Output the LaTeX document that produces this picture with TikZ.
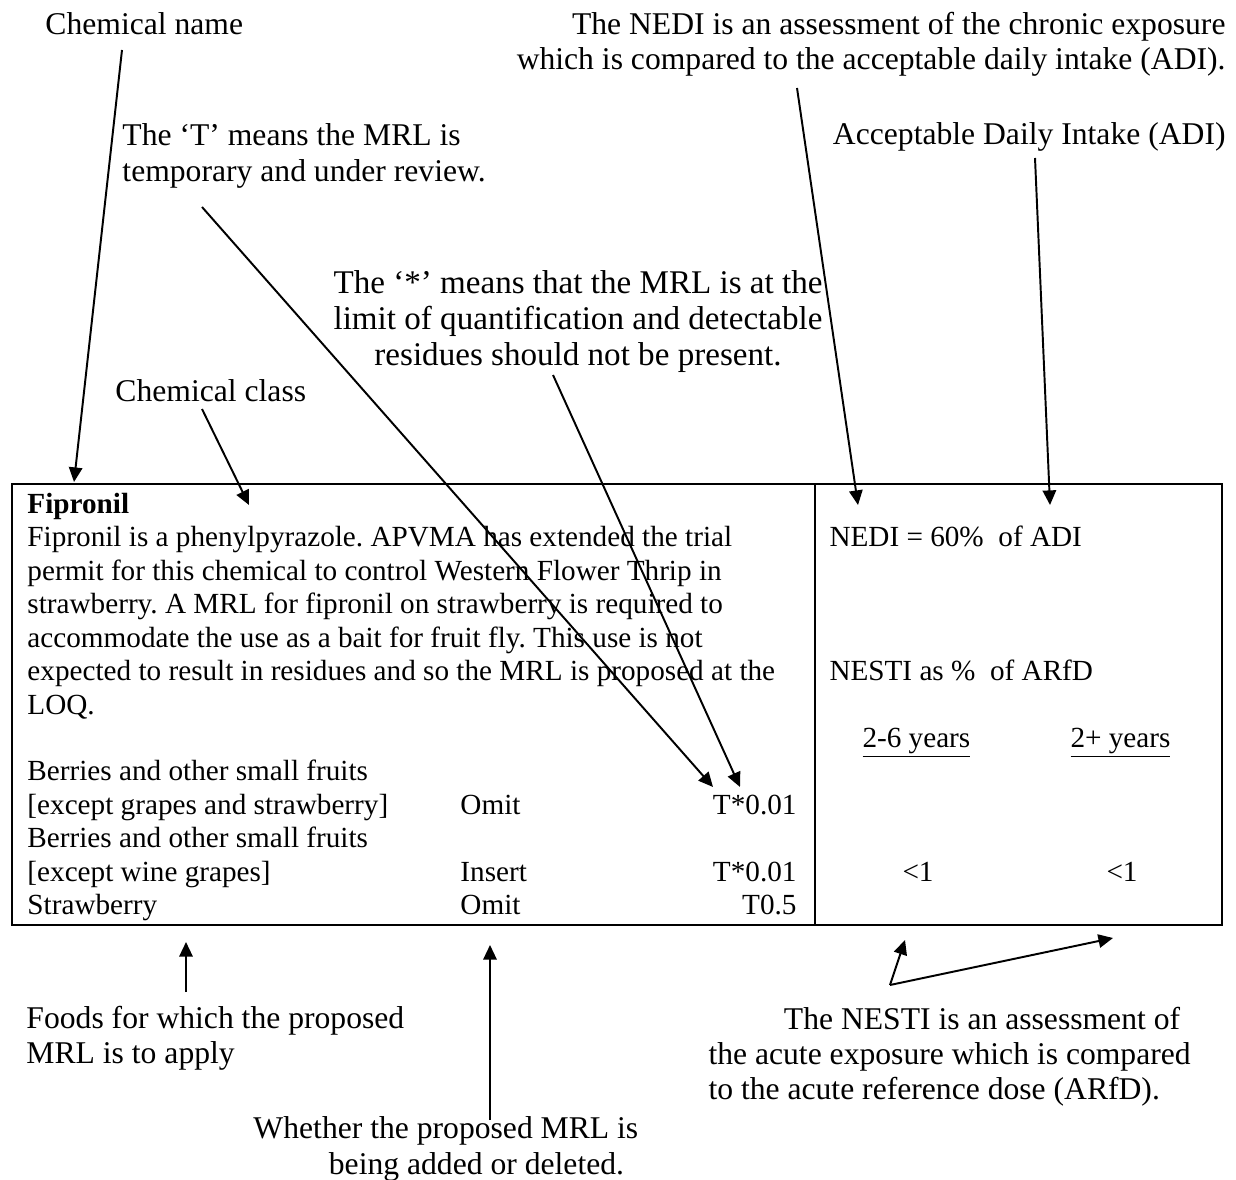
\documentclass[tikz,border=0pt]{standalone}
\usepackage{fontspec}
\setmainfont{Liberation Serif}
\usetikzlibrary{arrows.meta}
\frenchspacing
\newcommand{\tablefont}{\fontsize{12pt}{13.75pt}\selectfont}
\newcommand{\notefont}{\fontsize{13pt}{14.5pt}\selectfont}

\begin{document}
\begin{tikzpicture}[x=0.411pt, y=-0.411pt,
  note/.style={inner sep=0pt, font=\notefont},
  cell/.style={inner sep=0pt, font=\tablefont},
  pointer/.style={line width=0.8pt, -{Triangle[length=6pt,width=5.5pt]}},
  frame/.style={line width=1.2pt}]
\useasboundingbox (0,0) rectangle (1236,1180);
% notes above the table
\node[note, anchor=base west] (chemName) at (45,35) {Chemical name};
\node[note, anchor=north east, align=right] (nediNote) at (1226,11.5) {The NEDI is an assessment of the chronic exposure\\which is compared to the acceptable daily intake (ADI).};
\node[note, anchor=north west, align=left] (tempNote) at (122,123.5) {The `T' means the MRL is\\temporary and under review.};
\node[note, anchor=base east] (adiNote) at (1226,145) {Acceptable Daily Intake (ADI)};
\node[note, anchor=north, align=center, font=\fontsize{13.6pt}{14.8pt}\selectfont] (loqNote) at (578,270.5) {The `*' means that the MRL is at the\\limit of quantification and detectable\\residues should not be present.};
\node[note, anchor=base west] (classNote) at (115,402) {Chemical class};
% the table
\draw[frame] (12,484) rectangle (1222,925);
\draw[frame] (815,484) -- (815,925);
\node[cell, anchor=base west] (title) at (27,513) {\textbf{Fipronil}};
\node[cell, anchor=north west, align=left] (summary) at (27,526) {Fipronil is a phenylpyrazole. APVMA has extended the trial\\permit for this chemical to control Western Flower Thrip in\\strawberry. A MRL for fipronil on strawberry is required to\\accommodate the use as a bait for fruit fly. This use is not\\expected to result in residues and so the MRL is proposed at the\\LOQ.};
\node[cell, anchor=base west] (foodA) at (27,780) {Berries and other small fruits};
\node[cell, anchor=base west] (foodAx) at (27,814) {[except grapes and strawberry]};
\node[cell, anchor=base west] (foodB) at (27,847) {Berries and other small fruits};
\node[cell, anchor=base west] (foodBx) at (27,881) {[except wine grapes]};
\node[cell, anchor=base west] (foodC) at (27,914) {Strawberry};
\node[cell, anchor=base west] (actA) at (460,814) {Omit};
\node[cell, anchor=base west] (actB) at (460,881) {Insert};
\node[cell, anchor=base west] (actC) at (460,914) {Omit};
\node[cell, anchor=base east] (mrlA) at (797,814) {T*0.01};
\node[cell, anchor=base east] (mrlB) at (797,881) {T*0.01};
\node[cell, anchor=base east] (mrlC) at (797,914) {T0.5};
\node[cell, anchor=base west] (nedi) at (829,546) {NEDI = 60\%\ \ of ADI};
\node[cell, anchor=base west] (nesti) at (829,680) {NESTI as \%\ \ of ARfD};
\node[cell, anchor=base west] (young) at (862,747) {\underline{2-6 years}};
\node[cell, anchor=base west] (all) at (1070,747) {\underline{2+ years}};
\node[cell, anchor=base west] (youngVal) at (902,881) {<1};
\node[cell, anchor=base west] (allVal) at (1106,881) {<1};
% notes below the table
\node[note, anchor=north west, align=left] (foodsNote) at (26,1005.5) {Foods for which the proposed\\MRL is to apply};
\node[note, anchor=north west, align=left] (actNote) at (253,1116.5) {Whether the proposed MRL is\\\hspace*{31pt}being added or deleted.};
\node[note, anchor=north west, align=left] (nestiNote) at (708,1006.5) {\hspace*{31pt}The NESTI is an assessment of\\the acute exposure which is compared\\to the acute reference dose (ARfD).};
% arrows
\coordinate (nameTail) at (122,50);   \coordinate (nameTip) at (74,482);
\coordinate (tempTail) at (202,207);  \coordinate (tempTip) at (713,787);
\coordinate (loqTail) at (553,375);   \coordinate (loqTip) at (740,787);
\coordinate (classTail) at (202,409); \coordinate (classTip) at (249,505);
\coordinate (nediTail) at (797,88);   \coordinate (nediTip) at (858,505);
\coordinate (adiTail) at (1035,158);  \coordinate (adiTip) at (1050,505);
\coordinate (foodsTail) at (186,992); \coordinate (foodsTip) at (186,942);
\coordinate (actTail) at (490,1120);  \coordinate (actTip) at (490,945);
\coordinate (nestiFork) at (890,985);
\coordinate (nestiTipA) at (905,940); \coordinate (nestiTipB) at (1113,938);
\draw[pointer] (nameTail) -- (nameTip);
\draw[pointer] (tempTail) -- (tempTip);
\draw[pointer] (loqTail) -- (loqTip);
\draw[pointer] (classTail) -- (classTip);
\draw[pointer] (nediTail) -- (nediTip);
\draw[pointer] (adiTail) -- (adiTip);
\draw[pointer] (foodsTail) -- (foodsTip);
\draw[pointer] (actTail) -- (actTip);
\draw[pointer] (nestiFork) -- (nestiTipA);
\draw[pointer] (nestiFork) -- (nestiTipB);
\end{tikzpicture}
\end{document}
